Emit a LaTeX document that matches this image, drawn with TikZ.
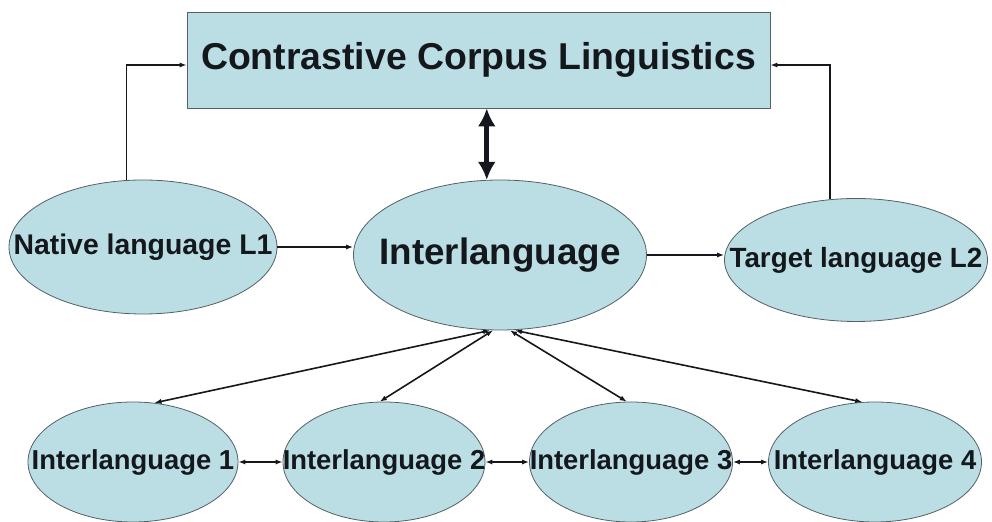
\documentclass[tikz,border=0pt]{standalone}
\usepackage{fontspec}
\setmainfont{Liberation Sans}
\usepackage{tikz}
\usetikzlibrary{shapes.geometric,arrows.meta}
\definecolor{bubble}{RGB}{186,222,228}
\definecolor{rim}{RGB}{85,95,100}
\definecolor{ink}{RGB}{20,24,28}

\begin{document}
\begin{tikzpicture}[x=0.5pt,y=-0.5pt,
  oval/.style={ellipse,draw=rim,fill=bubble,inner sep=0pt,text=ink,font=\bfseries},
  link/.style={draw=ink,line width=0.8pt,-{Latex[length=3.5pt,width=2.6pt]}},
  twoway/.style={link,{Latex[length=3.5pt,width=2.6pt]}-{Latex[length=3.5pt,width=2.6pt]}}]
\useasboundingbox (0,0) rectangle (992,522);
\node (ccl) at (478.5,60) [rectangle,draw=rim,fill=bubble,minimum width=291.5pt,minimum height=48pt,
  text=ink,font=\fontsize{18.7}{22}\selectfont\bfseries] {Contrastive Corpus Linguistics};
\node (nat) at (143,247) [oval,minimum width=134pt,minimum height=67pt,font=\fontsize{14.2}{17}\selectfont\bfseries]
  {\makebox[0pt]{Native language L1}};
\node (il) at (500,255) [oval,minimum width=146.5pt,minimum height=75pt,font=\fontsize{18.4}{22}\selectfont\bfseries]
  {\makebox[0pt]{Interlanguage}};
\node (tgt) at (856,260) [oval,minimum width=131.5pt,minimum height=61.5pt,font=\fontsize{13.9}{17}\selectfont\bfseries]
  {\makebox[0pt]{Target language L2}};
\node (ila) at (133,462) [oval,minimum width=105pt,minimum height=60pt,font=\fontsize{13.7}{16}\selectfont\bfseries]
  {\makebox[0pt]{Interlanguage 1}};
\node (ilb) at (384,462) [oval,minimum width=101pt,minimum height=60pt,font=\fontsize{13.7}{16}\selectfont\bfseries]
  {\makebox[0pt]{Interlanguage 2}};
\node (ilc) at (631,462) [oval,minimum width=101.5pt,minimum height=60pt,font=\fontsize{13.7}{16}\selectfont\bfseries]
  {\makebox[0pt]{Interlanguage 3}};
\node (ild) at (875,462) [oval,minimum width=106.5pt,minimum height=60pt,font=\fontsize{13.7}{16}\selectfont\bfseries]
  {\makebox[0pt]{Interlanguage 4}};
% up to the corpus box
\draw [link] (nat.104) |- ([yshift=-2.5pt]ccl.west);
\draw [link] (tgt.113) |- ([yshift=-2.5pt]ccl.east);
\draw [draw=ink,line width=2.6pt,{Latex[length=9pt,width=9pt]}-{Latex[length=9pt,width=9pt]}]
  (il.100) -- (il.100 |- ccl.south);
% along the middle row
\draw [link] (nat.east) -- (nat.east -| il.west);
\draw [link] (il.east) -- (il.east -| tgt.west);
% fan out to the bottom row
\draw [twoway] ([xshift=-5pt]il.south) -- (ila.70);
\draw [twoway] ([xshift=-3.5pt]il.south) -- (ilb.94);
\draw [twoway] ([xshift=5pt]il.south) -- (ilc.94);
\draw [twoway] ([xshift=7.5pt]il.south) -- (ild.102);
\draw [twoway] (ila.east) -- (ilb.west);
\draw [twoway] (ilb.east) -- (ilc.west);
\draw [twoway] (ilc.east) -- (ild.west);
\end{tikzpicture}
\end{document}
